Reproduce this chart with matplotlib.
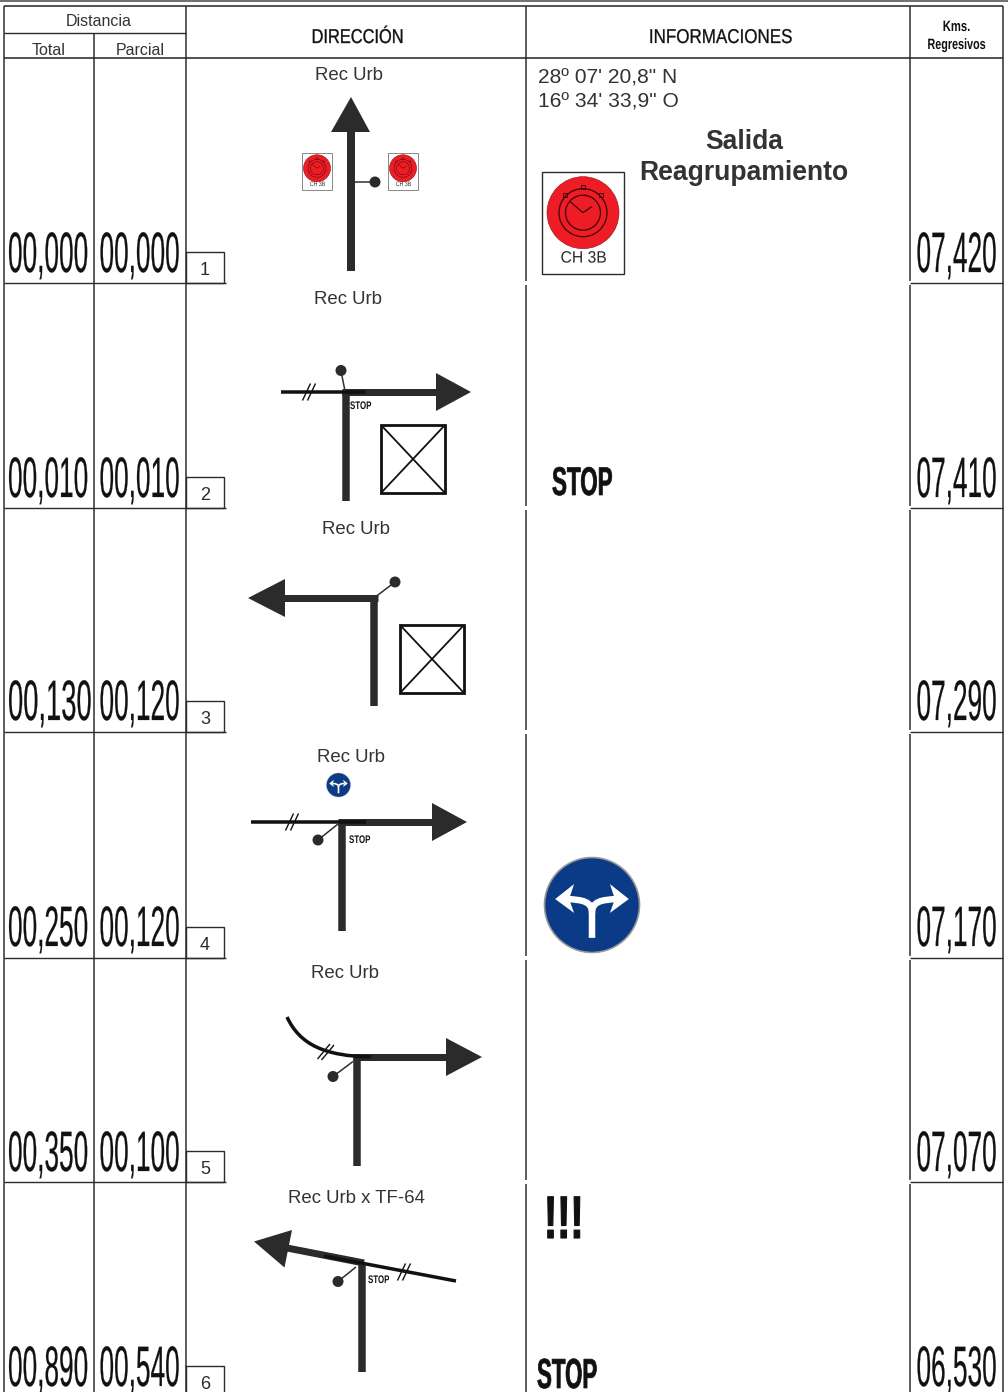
import matplotlib
matplotlib.use("Agg")
import matplotlib.pyplot as plt
from matplotlib.patches import Circle, Polygon, Rectangle, PathPatch
from matplotlib.path import Path
from matplotlib.patheffects import AbstractPathEffect
from matplotlib.transforms import Affine2D

# datos de la tabla
total = ["00,000", "00,010", "00,130", "00,250", "00,350", "00,890"]
parcial = ["00,000", "00,010", "00,120", "00,120", "00,100", "00,540"]
regresivos = ["07,420", "07,410", "07,290", "07,170", "07,070", "06,530"]
numero = ["1", "2", "3", "4", "5", "6"]
vias = ["Rec Urb", "Rec Urb", "Rec Urb", "Rec Urb", "Rec Urb", "Rec Urb x TF-64"]
coordenadas = ["28º 07' 20,8\" N", "16º 34' 33,9\" O"]
aviso = ["Salida", "Reagrupamiento"]

NEGRO = "#111111"
OSCURO = "#2b2b2b"
GRIS = "#333333"
ROJO = "#ee1c25"
AZUL = "#0b3a86"

plt.rcParams["font.family"] = ["Liberation Sans", "DejaVu Sans"]

fig = plt.figure(figsize=(10.08, 13.92), dpi=100)
ax = fig.add_axes([0, 0, 1, 1])
ax.set_xlim(0, 1008)
ax.set_ylim(1392, 0)
ax.axis("off")


# la fuente original es muy condensada: letra pequena estirada en vertical desde la base
class Estirado(AbstractPathEffect):
    def __init__(self, y0, sy, grosor=0):
        super().__init__()
        self.y0 = y0
        self.sy = sy
        self.grosor = grosor

    def draw_path(self, renderer, gc, tpath, affine, rgbFace=None):
        t = affine + Affine2D().translate(0, -self.y0).scale(1, self.sy).translate(0, self.y0)
        gc0 = renderer.new_gc()
        gc0.copy_properties(gc)
        gc0.set_linewidth(self.grosor)
        renderer.draw_path(gc0, tpath, t, rgbFace)
        gc0.restore()


def texto(x, y, s, px, sx=1.0, color=GRIS, ha="center", weight="normal", grosor=0):
    t = ax.text(x, y, s, fontsize=px * sx * 0.72, color=color, ha=ha, va="baseline",
                fontweight=weight)
    if sx != 1.0 or grosor:
        t.set_path_effects([Estirado(1392 - y, 1 / sx, grosor)])
    return t


def linea(xs, ys, px=1.5, color=OSCURO, cap="butt"):
    ax.plot(xs, ys, color=color, lw=px * 0.72, solid_capstyle=cap,
            solid_joinstyle="miter")


def punto(x, y, r=5.5, color=OSCURO):
    ax.add_patch(Circle((x, y), r, fc=color, ec="none"))


def cabeza(puntos):
    ax.add_patch(Polygon(puntos, closed=True, fc=OSCURO, ec="none", zorder=3))


def rayas(x, y):
    # las dos rayitas // de la via
    for dx in (-2.5, 2.5):
        linea([x + dx - 4, x + dx + 4], [y + 8.5, y - 8.5], 1.4, NEGRO)


def caja_x(x0, y0, x1, y1):
    ax.add_patch(Rectangle((x0, y0), x1 - x0, y1 - y0, fc="white", ec=NEGRO, lw=2.0))
    linea([x0, x1], [y0, y1], 1.8, NEGRO)
    linea([x0, x1], [y1, y0], 1.8, NEGRO)


def crono(cx, cy, r, escala_linea=1.0):
    ax.add_patch(Circle((cx, cy), r, fc=ROJO, ec="#8a1015", lw=0.4))
    for f in (0.667, 0.486):
        ax.add_patch(Circle((cx, cy), r * f, fc="none", ec="#3a0508", lw=0.9 * escala_linea))
    linea([cx, cx - 0.35 * r], [cy, cy - 0.3 * r], 1.2 * escala_linea, "#3a0508")
    linea([cx, cx + 0.25 * r], [cy, cy - 0.17 * r], 1.2 * escala_linea, "#3a0508")
    for dx, dy in ((0, -0.72), (-0.5, -0.5), (0.5, -0.5)):
        ax.add_patch(Rectangle((cx + dx * r - 0.06 * r, cy + dy * r - 0.06 * r), 0.12 * r, 0.12 * r,
                               fc="none", ec="#3a0508", lw=0.6 * escala_linea))


def icono_ch(x0, y0, x1, y1, r, px, lw, c="#555555"):
    ax.add_patch(Rectangle((x0, y0), x1 - x0, y1 - y0, fc="white", ec=c, lw=lw))
    cx = (x0 + x1) / 2
    crono(cx, y0 + (r + 0.13 * r), r, 1.0 if r > 20 else 0.35)
    texto(cx + 0.5, y1 - 0.17 * (y1 - y0) + px * 0.36, "CH 3B", px, 0.95 if r > 20 else 0.8,
          OSCURO)


def senal_azul(cx, cy, r):
    k = r / 47.7
    ax.add_patch(Circle((cx, cy), r, fc=AZUL, ec="#999999", lw=1.2 * k))
    v = [(cx, cy + 33 * k), (cx, cy + 8 * k), (cx, cy - 4 * k), (cx - 10 * k, cy - 5 * k),
         (cx - 24 * k, cy - 6 * k)]
    w = [(cx, cy + 8 * k), (cx, cy - 4 * k), (cx + 10 * k, cy - 5 * k), (cx + 24 * k, cy - 6 * k)]
    codes = [Path.MOVETO, Path.LINETO, Path.CURVE4, Path.CURVE4, Path.CURVE4]
    ax.add_patch(PathPatch(Path(v, codes), fc="none", ec="white", lw=6.5 * k * 0.72, capstyle="butt"))
    ax.add_patch(PathPatch(Path(w, codes[0:1] + codes[2:]), fc="none", ec="white", lw=6.5 * k * 0.72,
                           capstyle="butt"))
    for sgn in (-1, 1):
        ax.add_patch(Polygon([(cx + sgn * 37 * k, cy - 6 * k), (cx + sgn * 18 * k, cy - 21 * k),
                              (cx + sgn * 23 * k, cy - 6 * k), (cx + sgn * 18 * k, cy + 8 * k)],
                             closed=True, fc="white", ec="none"))


# ---------- rejilla
linea([0, 1008], [0.5, 0.5], 1.5, "#444444")
linea([4, 1003], [6, 6], 1.6)
linea([4, 1003], [58, 58], 1.6)
linea([4, 186], [33, 33], 1.4)

limites = [283, 508, 732, 958, 1182]
for y in limites:
    linea([4, 186], [y, y], 1.4)
    linea([186, 226], [y, y], 1.4)
    linea([910, 1003], [y, y], 1.4)

for x in (4, 186, 1003):
    linea([x, x], [6, 1392], 1.5)
linea([94, 94], [33, 1392], 1.5)

# las columnas centrales cortan en cada fila
cortes = [6]
for y in limites:
    cortes += [y - 2, y + 2]
cortes.append(1392)
for i in range(0, len(cortes), 2):
    linea([526, 526], [cortes[i], cortes[i + 1]], 1.5)
    linea([910, 910], [cortes[i], cortes[i + 1]], 1.5)

# ---------- cabeceras
texto(99, 26, "Distancia", 16)
texto(49, 55, "Total", 16)
texto(140, 55, "Parcial", 16)
texto(357.5, 43, "DIRECCIÓN", 20, 0.82, NEGRO, grosor=0.25)
texto(720.5, 43, "INFORMACIONES", 20, 0.85, NEGRO, grosor=0.2)
texto(956.5, 31, "Kms.", 15, 0.75, NEGRO, weight="bold")
texto(956.5, 49, "Regresivos", 15, 0.72, NEGRO, weight="bold")

# ---------- numeros de cada fila
bases = [272, 497, 720, 946, 1171, 1386]
pies = limites + [1397]
sq = 0.46
for i in range(6):
    b = bases[i]
    # el 00,130 del original esta algo mas ancho
    sq_total = 0.48 if total[i] == "00,130" else sq
    texto(8, b, total[i], 57, sq_total, NEGRO, ha="left", grosor=0.15)
    texto(99.5, b, parcial[i], 57, sq, NEGRO, ha="left", grosor=0.15)
    texto(916.5, b, regresivos[i], 57, sq, NEGRO, ha="left", grosor=0.15)
    ax.add_patch(Rectangle((186, pies[i] - 31), 38, 31, fc="white", ec=OSCURO, lw=1.0))
    texto(205, pies[i] - 8, numero[i], 18, 1.0, OSCURO)

# ---------- nombres de la via
pos_via = [(349, 80), (348, 304), (356, 534), (351, 762), (345, 978), (356, 1203)]
for (x, y), via in zip(pos_via, vias):
    texto(x, y, via, 18.6)

# ---------- fila 1
linea([351, 351], [271, 130], 8)
cabeza([(351, 97), (370, 132), (331, 132)])
linea([351, 375], [182, 182], 1.5)
punto(375, 182)
icono_ch(302, 153, 332, 190, 13.5, 6.5, 0.7, "#888888")
icono_ch(388, 153, 418, 190, 13.5, 6.5, 0.7, "#888888")

texto(538, 84, coordenadas[0], 21, ha="left")
texto(538, 108, coordenadas[1], 21, ha="left")
texto(744, 149, aviso[0], 26.5, weight="bold")
texto(744, 180, aviso[1], 26.5, weight="bold")
icono_ch(542, 172, 624, 274, 36, 16.5, 1.0, OSCURO)

# ---------- fila 2
linea([346, 346], [501, 392], 7.5)
linea([342, 437], [392, 392], 7)
cabeza([(471, 392), (436, 373), (436, 411)])
linea([281, 366], [392, 392], 3.5, NEGRO)
rayas(309, 392)
linea([345, 341], [391, 371], 1.5)
punto(341, 370.5)
texto(350, 409, "STOP", 11, 0.72, NEGRO, ha="left", weight="bold")
caja_x(381, 425, 445, 493)
texto(552, 495, "STOP", 40, 0.56, NEGRO, ha="left", weight="bold", grosor=0.5)

# ---------- fila 3
linea([374, 374], [706, 595], 7.5)
linea([378, 283], [598, 598], 7)
cabeza([(248, 598), (285, 579), (285, 617)])
linea([374, 395], [598, 582], 1.5)
punto(395, 582)
caja_x(400, 625, 464, 693)

# ---------- fila 4
linea([342, 342], [931, 820], 7.5)
linea([338, 433], [822, 822], 7)
cabeza([(467, 822), (432, 803), (432, 841)])
linea([251, 366], [822, 822], 3.5, NEGRO)
rayas(292, 822)
linea([338, 318], [824, 840], 1.5)
punto(318, 840)
texto(349, 843, "STOP", 11, 0.72, NEGRO, ha="left", weight="bold")
senal_azul(338.5, 785, 12)
senal_azul(592, 905, 47.5)

# ---------- fila 5
linea([356.5, 356.5], [1166, 1054], 7.5)
linea([353, 447], [1057, 1057], 7)
cabeza([(482, 1057), (446, 1038), (446, 1076)])
ax.add_patch(PathPatch(Path([(287, 1017), (300, 1045), (325, 1056), (371, 1057)],
                            [Path.MOVETO, Path.CURVE4, Path.CURVE4, Path.CURVE4]),
                       fc="none", ec=NEGRO, lw=3.5 * 0.72, capstyle="butt", zorder=4))
linea([317.5, 330], [1059, 1044], 1.4, NEGRO)
linea([321.5, 334], [1060, 1045], 1.4, NEGRO)
linea([353, 333], [1061.5, 1076.5], 1.5)
punto(333, 1076.5)

# ---------- fila 6
linea([362, 362], [1372, 1263], 7.5)
linea([364, 287], [1263, 1248], 7)
cabeza([(254, 1241.5), (292, 1230), (284.5, 1267.5)])
linea([456, 324], [1281, 1256], 3.5, NEGRO)
rayas(404, 1272)
linea([356, 338], [1267, 1281.5], 1.5)
punto(338, 1281.5)
texto(368, 1283, "STOP", 11, 0.72, NEGRO, ha="left", weight="bold")
texto(537, 1388, "STOP", 42, 0.53, NEGRO, ha="left", weight="bold", grosor=0.5)
texto(544, 1238, "!!!", 60, 0.66, NEGRO, ha="left", weight="bold", grosor=0.8)

fig.savefig("out.png", dpi=100)
